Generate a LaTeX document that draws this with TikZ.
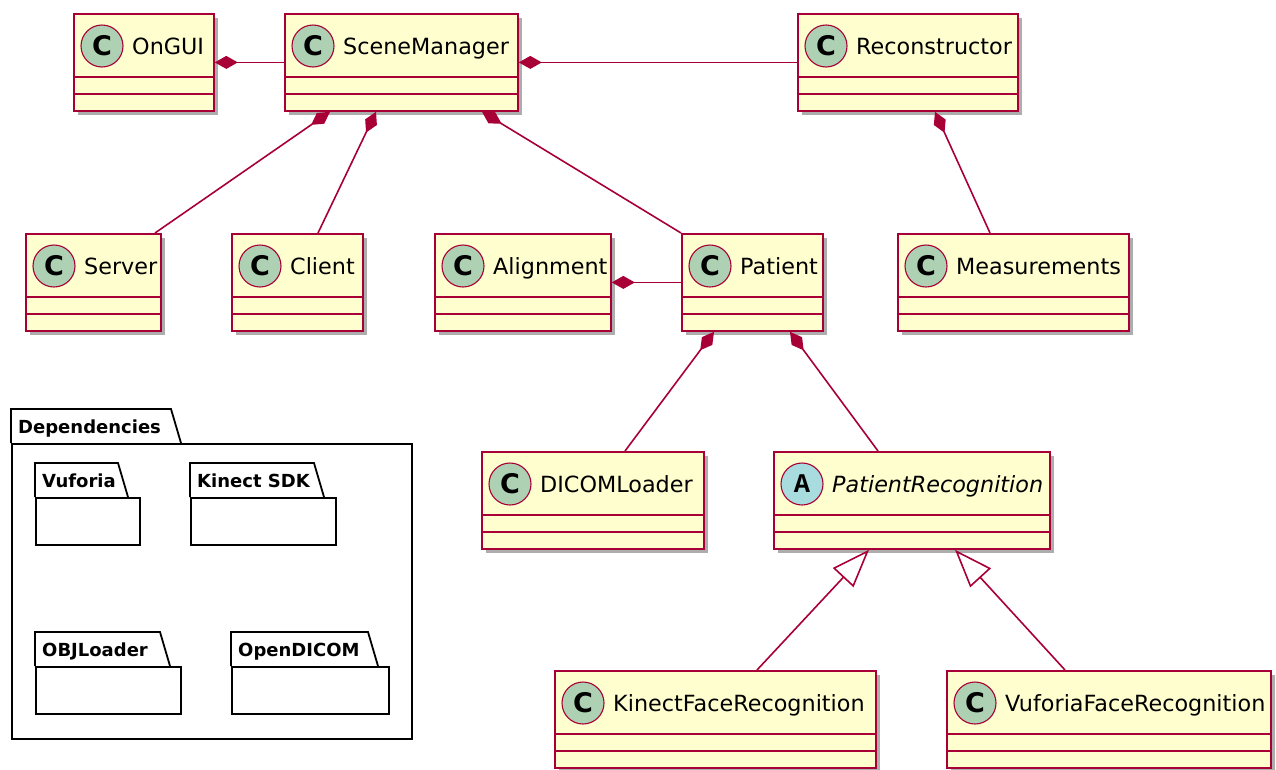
\documentclass[tikz,border=0pt]{standalone}
\usepackage{fontspec}
\setmainfont{DejaVu Sans}
\newfontfamily\stereofont{Liberation Mono}
\usepackage{tikz}
\usetikzlibrary{arrows.meta,shadows}
\definecolor{umlfill}{HTML}{FEFECE}
\definecolor{umlline}{HTML}{A80036}
\definecolor{classcirc}{HTML}{ADD1B2}
\definecolor{abstcirc}{HTML}{A9DCDF}

% name, x, y, width, circle fill, letter, title
\newcommand{\umlclass}[7]{%
  \node[classbox,minimum width=#4pt] (#1) at (#2,#3) {};
  \draw[classline] ([yshift=-64pt]#1.north west) -- ([yshift=-64pt]#1.north east)
    ([yshift=-81pt]#1.north west) -- ([yshift=-81pt]#1.north east);
  \node[stereo,fill=#5] (#1-c) at ([xshift=29pt,yshift=-33pt]#1.north west) {#6};
  \node[classname] (#1-t) at ([xshift=59pt,yshift=-41pt]#1.north west) {#7};
}
% name, x, y (below tab), width, height, tab width, label
\newcommand{\umlpackage}[7]{%
  \node[pkgbody,minimum width=#4pt,minimum height=#5pt] (#1) at (#2,#3) {};
  \draw[pkgline] (#1.north west) -- ++(0,-34) -- ++(#6,0) -- ([xshift=#6pt+10pt]#1.north west);
  \node[pkgname] (#1-t) at ([xshift=7pt,yshift=10pt]#1.north west) {#7};
}

\begin{document}
\begin{tikzpicture}[x=1pt,y=-1pt,
    classbox/.style={draw=umlline,fill=umlfill,line width=1.8pt,minimum height=97pt,inner sep=0,anchor=north west,
      drop shadow={shadow xshift=4pt,shadow yshift=-4pt,fill=black!80,opacity=0.4}},
    classline/.style={draw=umlline,line width=1.8pt},
    stereo/.style={circle,draw=umlline,line width=1.1pt,minimum size=42pt,inner sep=0,font=\fontsize{27}{30}\selectfont\bfseries},
    classname/.style={inner sep=0,anchor=base west,font=\fontsize{22.3}{26}\selectfont},
    link/.style={draw=umlline,line width=1.6pt},
    comp/.style={link,{Diamond[length=23pt,width=13pt]}-},
    ext/.style={link,-{Triangle[length=38pt,width=28pt,fill=white]}},
    pkgbody/.style={draw,fill=white,line width=1.8pt,inner sep=0,anchor=north west},
    pkgline/.style={draw,line width=1.8pt},
    pkgname/.style={inner sep=0,anchor=base west,font=\fontsize{18}{21}\selectfont\bfseries}]
  \useasboundingbox[fill=white] (0,0) rectangle (1276,769);

  \umlclass{ongui}{73}{13}{140}{classcirc}{C}{OnGUI}
  \umlclass{scene}{284}{13}{233}{classcirc}{C}{SceneManager}
  \umlclass{recon}{797}{13}{220}{classcirc}{C}{Reconstructor}
  \umlclass{server}{25}{233}{135}{classcirc}{C}{Server}
  \umlclass{client}{231}{233}{131}{classcirc}{C}{Client}
  \umlclass{align}{434}{233}{176}{classcirc}{C}{Alignment}
  \umlclass{patient}{681}{233}{141}{classcirc}{C}{Patient}
  \umlclass{meas}{897}{233}{231}{classcirc}{C}{Measurements}
  \umlclass{dicom}{481}{451}{222}{classcirc}{C}{DICOMLoader}
  \umlclass{precog}{773}{451}{276}{abstcirc}{\stereofont A}{\itshape PatientRecognition}
  \umlclass{kinectface}{554}{670}{321}{classcirc}{C}{KinectFaceRecognition}
  \umlclass{vuforiaface}{946}{670}{324}{classcirc}{C}{VuforiaFaceRecognition}

  \umlpackage{deps}{11}{443}{400}{295}{160}{Dependencies}
  \umlpackage{vuforia}{35}{497}{104}{47}{83}{Vuforia}
  \umlpackage{kinectsdk}{190}{497}{145}{47}{124}{Kinect SDK}
  \umlpackage{objloader}{35}{666}{145}{47}{125}{OBJLoader}
  \umlpackage{opendicom}{231}{666}{157}{47}{137}{OpenDICOM}

  \draw[comp] (ongui.east) -- (scene.west);
  \draw[comp] (scene.east) -- (recon.west);
  \draw[comp] ([xshift=46pt]scene.south west) -- ([xshift=130pt]server.north west);
  \draw[comp] ([xshift=92pt]scene.south west) -- ([xshift=87pt]client.north west);
  \draw[comp] ([xshift=198pt]scene.south west) -- (patient.north west);
  \draw[comp] ([xshift=138pt]recon.south west) -- ([xshift=93pt]meas.north west);
  \draw[comp] (align.east) -- (patient.west);
  \draw[comp] ([xshift=33pt]patient.south west) -- ([xshift=144pt]dicom.north west);
  \draw[comp] ([xshift=109pt]patient.south west) -- ([xshift=105pt]precog.north west);
  \draw[ext] ([xshift=203pt]kinectface.north west) -- ([xshift=96pt]precog.south west);
  \draw[ext] ([xshift=119pt]vuforiaface.north west) -- ([xshift=182pt]precog.south west);
\end{tikzpicture}
\end{document}
